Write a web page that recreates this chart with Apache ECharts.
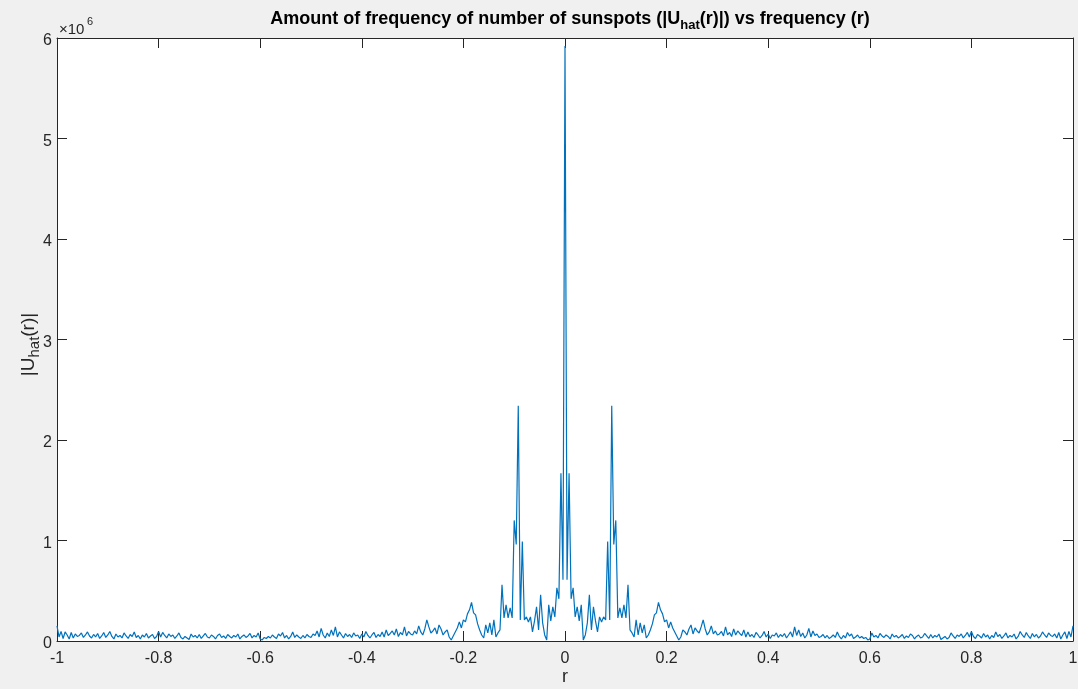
<!DOCTYPE html>
<html>
<head>
<meta charset="utf-8">
<script src="https://cdn.jsdelivr.net/npm/echarts@6/dist/echarts.min.js"></script>
<style>
  html, body { margin: 0; padding: 0; background: #f0f0f0; }
  #chart { width: 1078px; height: 689px; }
</style>
</head>
<body>
<div id="chart"></div>
<script>
// Frequency grid: r from -1 to 1, step 0.004 (501 samples)
const rStart = -1;
const rStep = 0.004;

// |U_hat(r)| in thousands, one row per 0.1 of r
const magK = [
  // -1.000 .. -0.904
  150, 40, 95, 25, 90, 60, 20, 85, 30, 70, 45, 55, 80, 35, 60, 90, 50, 30, 65, 40, 75, 25, 50, 85, 35,
  // -0.900 .. -0.804
  60, 95, 45, 20, 70, 40, 55, 30, 80, 50, 25, 65, 45, 90, 35, 55, 20, 60, 40, 75, 30, 50, 65, 25, 45,
  // -0.800 .. -0.704
  95, 40, 85, 55, 30, 70, 45, 60, 25, 50, 80, 35, 20, 45, 30, 15, 70, 40, 55, 30, 65, 25, 50, 75, 40,
  // -0.700 .. -0.604
  30, 60, 45, 20, 55, 70, 35, 50, 25, 65, 45, 30, 55, 40, 70, 20, 45, 60, 35, 50, 75, 30, 55, 40, 80,
  // -0.600 .. -0.504
  20, 10, 35, 25, 45, 30, 60, 40, 25, 70, 50, 85, 30, 55, 20, 45, 90, 35, 60, 40, 25, 55, 30, 65, 45,
  // -0.500 .. -0.404
  35, 70, 55, 100, 40, 125, 60, 30, 80, 45, 110, 55, 140, 40, 90, 60, 30, 75, 45, 65, 35, 80, 50, 60, 25,
  // -0.400 .. -0.304
  70, 40, 95, 55, 30, 60, 85, 35, 65, 45, 90, 40, 110, 55, 75, 100, 60, 120, 45, 85, 60, 140, 50, 95, 70,
  // -0.300 .. -0.204
  60, 100, 70, 150, 90, 60, 120, 210, 140, 80, 100, 130, 70, 160, 120, 60, 90, 110, 40, 10, 50, 90, 130, 190, 130,
  // -0.200 .. -0.104
  210, 190, 270, 310, 385, 280, 260, 170, 110, 60, 30, 160, 80, 180, 60, 210, 40, 80, 110, 560, 230, 360, 230, 330, 230,
  // -0.100 .. -0.004
  1200, 960, 2340, 210, 990, 210, 240, 190, 240, 90, 200, 340, 110, 460, 180, 60, 10, 360, 200, 340, 240, 530, 420, 1670, 610,
  // 0
  5920,
  // 0.004 .. 0.100
  610, 1670, 420, 530, 240, 340, 200, 360, 10, 60, 180, 460, 110, 340, 200, 90, 240, 190, 240, 210, 990, 210, 2340, 960, 1200,
  // 0.104 .. 0.200
  230, 330, 230, 360, 230, 560, 110, 80, 40, 210, 60, 180, 80, 160, 30, 60, 110, 170, 260, 280, 385, 310, 270, 190, 210,
  // 0.204 .. 0.300
  130, 190, 130, 90, 50, 10, 40, 110, 90, 60, 120, 160, 70, 130, 100, 80, 140, 210, 120, 60, 90, 150, 70, 100, 60,
  // 0.304 .. 0.400
  70, 95, 50, 140, 60, 85, 45, 120, 60, 100, 75, 55, 110, 40, 90, 45, 65, 35, 85, 60, 30, 55, 95, 40, 70,
  // 0.404 .. 0.500
  25, 60, 50, 80, 35, 65, 45, 75, 30, 60, 90, 40, 140, 55, 110, 45, 80, 30, 60, 125, 40, 100, 55, 70, 35,
  // 0.504 .. 0.600
  45, 65, 30, 55, 25, 40, 60, 35, 90, 45, 20, 55, 30, 85, 50, 70, 25, 40, 60, 30, 45, 25, 35, 10, 20,
  // 0.604 .. 0.700
  80, 40, 55, 30, 75, 50, 35, 60, 45, 20, 70, 40, 55, 30, 45, 65, 25, 50, 35, 70, 55, 20, 45, 60, 30,
  // 0.704 .. 0.800
  40, 75, 50, 25, 65, 30, 55, 40, 70, 15, 30, 45, 20, 35, 80, 50, 25, 60, 45, 70, 30, 55, 85, 40, 95,
  // 0.804 .. 0.900
  45, 25, 65, 50, 30, 75, 40, 60, 20, 55, 35, 90, 45, 65, 25, 50, 80, 30, 55, 40, 70, 20, 45, 95, 60,
  // 0.904 .. 1.000
  35, 85, 50, 25, 75, 40, 65, 30, 50, 90, 60, 35, 80, 55, 45, 70, 30, 85, 20, 60, 90, 25, 95, 40, 150
];

// Axis ticks
const xTicks = [-1, -0.8, -0.6, -0.4, -0.2, 0, 0.2, 0.4, 0.6, 0.8, 1];
const yTicks = [0, 1, 2, 3, 4, 5, 6]; // in units of 10^6

const FONT = '"Liberation Sans", Arial, Helvetica, sans-serif';
const AX = '#262626';
const LINE = '#0072BD';

// pairs [r, |U_hat| in millions]
const points = magK.map((v, i) => [+(rStart + i * rStep).toFixed(3), v / 1000]);

const chart = echarts.init(document.getElementById('chart'), null, { renderer: 'canvas' });

const tickStyle = { show: true, inside: true, length: 10, lineStyle: { color: AX, width: 1 } };
const lineStyle = { show: true, onZero: false, lineStyle: { color: AX, width: 1 } };

chart.setOption({
  animation: false,
  backgroundColor: '#f0f0f0',
  grid: {
    left: 57, right: 5, top: 38, bottom: 48,
    outerBoundsMode: 'none', containLabel: false,
    show: true, backgroundColor: '#ffffff', borderWidth: 0
  },
  title: {
    text: '{t|Amount of frequency of number of sunspots (|U}{s|hat}{t|(r)|) vs frequency (r)}',
    left: 565, top: 1, textAlign: 'center',
    textStyle: {
      rich: {
        t: { fontFamily: FONT, fontSize: 18, fontWeight: 'bold', color: '#000', lineHeight: 26, verticalAlign: 'middle' },
        s: { fontFamily: FONT, fontSize: 13, fontWeight: 'bold', color: '#000', lineHeight: 26, verticalAlign: 'bottom' }
      }
    }
  },
  xAxis: [
    {
      type: 'value', min: -1, max: 1, interval: 0.2,
      axisLine: lineStyle, axisTick: tickStyle, splitLine: { show: false },
      axisLabel: {
        color: AX, fontFamily: FONT, fontSize: 16, margin: 10,
        formatter: v => String(+v.toFixed(1))
      },
      name: 'r', nameLocation: 'middle', nameGap: 27, nameMoveOverlap: false,
      nameTextStyle: { color: AX, fontFamily: FONT, fontSize: 18 }
    },
    {
      type: 'value', min: -1, max: 1, interval: 0.2, position: 'top',
      axisLine: lineStyle, axisTick: tickStyle, splitLine: { show: false },
      axisLabel: { show: false }
    }
  ],
  yAxis: [
    {
      type: 'value', min: 0, max: 6, interval: 1,
      axisLine: lineStyle, axisTick: tickStyle, splitLine: { show: false },
      axisLabel: {
        margin: 5,
        formatter: v => '{v|' + v + '}',
        rich: { v: { color: AX, fontFamily: FONT, fontSize: 16, padding: [6, 0, 0, 0] } }
      },
      name: '{n||U}{s|hat}{n|(r)|}', nameLocation: 'middle', nameGap: 15, nameRotate: 90,
      nameMoveOverlap: false,
      nameTextStyle: {
        padding: [0, 10, 0, 0],
        rich: {
          n: { fontFamily: FONT, fontSize: 19, color: AX, lineHeight: 26, verticalAlign: 'middle' },
          s: { fontFamily: FONT, fontSize: 15, color: AX, lineHeight: 26, verticalAlign: 'bottom' }
        }
      }
    },
    {
      type: 'value', min: 0, max: 6, interval: 1, position: 'right',
      axisLine: lineStyle, axisTick: tickStyle, splitLine: { show: false },
      axisLabel: { show: false }
    }
  ],
  graphic: [
    { type: 'text', left: 59, top: 22, style: { text: '×10', fontFamily: FONT, fontSize: 15, fill: AX } },
    { type: 'text', left: 87, top: 16, style: { text: '6', fontFamily: FONT, fontSize: 11, fill: AX } }
  ],
  series: [{
    type: 'line',
    xAxisIndex: 0, yAxisIndex: 0,
    data: points,
    showSymbol: false,
    sampling: false,
    lineStyle: { color: LINE, width: 1.2 },
    emphasis: { disabled: true }
  }]
});
</script>
</body>
</html>
